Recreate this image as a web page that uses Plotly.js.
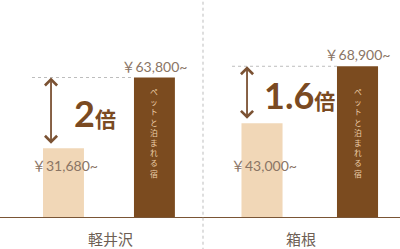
<!DOCTYPE html>
<html><head><meta charset="utf-8">
<script src="https://cdn.plot.ly/plotly-3.0.1.min.js"></script>
<style>html,body{margin:0;padding:0;background:#fff}#c{width:400px;height:249px}</style>
</head><body><div id="c"></div>
<script>
// Data
const areas = ["軽井沢", "箱根"];
const barKinds = ["通常の宿", "ペットと泊まれる宿"];
const normalPrice = [31680, 43000];
const petPrice = [63800, 68900];
const ratioLabels = ["2", "1.6"];
const petLabel = "ペットと泊まれる宿";

const fmt = v => "￥" + v.toLocaleString("en-US") + "~";
const lightC = "#F1D7B7", darkC = "#7B4B1F", brown = "#7A4A22", textC = "#8A7565";
const xaxes = ["x", "x2"];
const xRanges = [[-0.698, 1.534], [-0.618, 1.445]];
const widths = [0.45, 0.43];
const arrowX = [-0.137, -0.157];
const dashX0 = [-0.346, -0.314];
const labelDom = [0.542, 0.497];
const ratioShift = [21, 15];

const traces = [], shapes = [], annotations = [];
areas.forEach((a, i) => {
  const xa = xaxes[i];
  traces.push({
    type: "bar", x: [0], y: [normalPrice[i]], xaxis: xa, yaxis: "y",
    width: widths[i], marker: {color: lightC}, hoverinfo: "skip"
  });
  traces.push({
    type: "bar", x: [1], y: [petPrice[i]], xaxis: xa, yaxis: "y",
    width: widths[i], marker: {color: darkC}, hoverinfo: "skip",
    text: [fmt(petPrice[i])], textposition: "outside", cliponaxis: false, constraintext: "none",
    textfont: {family: "Lato, 'Noto Sans CJK JP'", size: 14, color: textC}
  });
  // dashed reference line at the pet price
  shapes.push({type: "line", xref: xa, yref: "y", x0: dashX0[i], x1: 1 - widths[i] / 2,
    y0: petPrice[i], y1: petPrice[i], line: {color: "#BDBDBD", width: 1, dash: "3px,3px"}});
  // double-headed arrow
  annotations.push({xref: xa, yref: "y", x: arrowX[i], y: petPrice[i],
    axref: "pixel", ayref: "y", ax: 0, ay: normalPrice[i],
    showarrow: true, arrowhead: 4, startarrowhead: 4, arrowside: "end+start",
    arrowsize: 1.3, startarrowsize: 1.3, arrowwidth: 1.8, arrowcolor: "#7B5233",
    standoff: 0, startstandoff: 3, text: ""});
  // ratio label
  annotations.push({xref: xa, yref: "y", x: arrowX[i], y: (petPrice[i] + normalPrice[i]) / 2,
    xanchor: "left", yanchor: "middle", xshift: ratioShift[i], showarrow: false,
    text: "<b>" + ratioLabels[i] + "</b><span style='font-size:21px'><b>倍</b></span>",
    font: {family: "Lato, 'Noto Sans CJK JP'", size: 36, color: brown}});
  // normal price label
  annotations.push({xref: xa, yref: "paper", x: 0, y: 0.193, xshift: 2, showarrow: false,
    text: fmt(normalPrice[i]), font: {family: "Lato, 'Noto Sans CJK JP'", size: 14, color: textC}});
  // vertical label inside dark bar, one character per line
  const chars = petLabel.split("");
  chars.forEach((ch, k) => {
    annotations.push({xref: xa, yref: "paper", x: 1, y: 0.393, showarrow: false,
      yanchor: "middle", yshift: -(k - (chars.length - 1) / 2) * 10.2,
      text: ch, font: {family: "'Noto Sans CJK JP'", size: 7.8, color: "#EDCFA9"}});
  });
  // area name
  annotations.push({xref: xa + " domain", yref: "paper", x: labelDom[i], y: -0.094,
    yanchor: "middle", showarrow: false, text: a,
    font: {family: "'Noto Sans CJK JP'", size: 15, color: "#6E5F55"}});
});
// baseline
shapes.push({type: "line", xref: "paper", yref: "y", x0: 0, x1: 1, y0: 0, y1: 0,
  line: {color: "#7A5535", width: 2}});
// divider
shapes.push({type: "line", xref: "paper", yref: "paper", x0: 0.5075, x1: 0.5075, y0: -0.15, y1: 1,
  line: {color: "#BDBDBD", width: 1, dash: "3px,3px"}});

const axBase = {showgrid: false, zeroline: false, showticklabels: false, showline: false, fixedrange: true, type: "linear"};
const layout = {
  width: 400, height: 249, margin: {l: 0, r: 0, t: 0, b: 31},
  paper_bgcolor: "#fff", plot_bgcolor: "#fff", showlegend: false,
  xaxis: Object.assign({}, axBase, {domain: [0, 0.5075], range: xRanges[0], anchor: "y"}),
  xaxis2: Object.assign({}, axBase, {domain: [0.5075, 1], range: xRanges[1], anchor: "y"}),
  yaxis: Object.assign({}, axBase, {range: [0, 99000]}),
  shapes, annotations
};
Plotly.newPlot("c", traces, layout, {staticPlot: true, displayModeBar: false});
</script></body></html>
